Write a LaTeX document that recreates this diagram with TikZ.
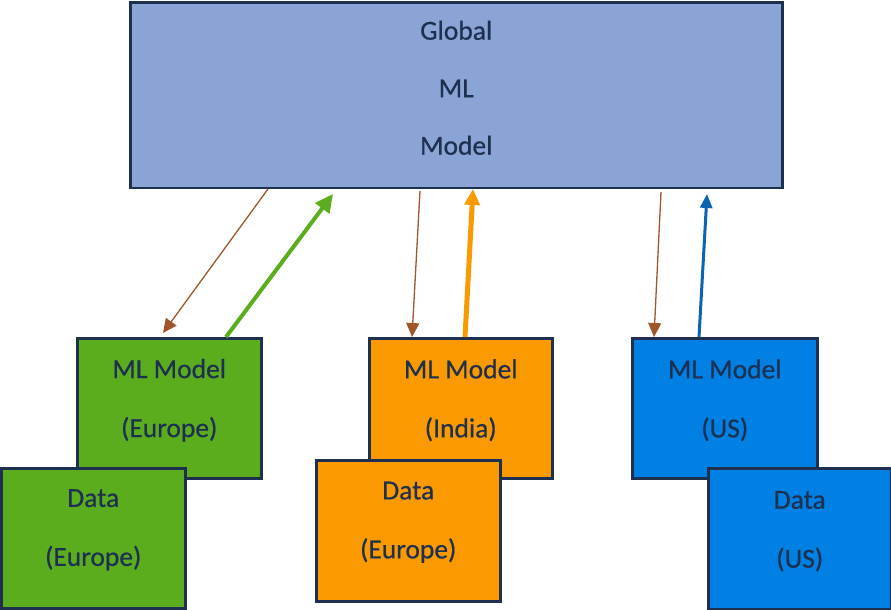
\documentclass[tikz,border=0pt]{standalone}
\usepackage{fontspec}
\setmainfont{Carlito}[FakeBold=0.5]
\usetikzlibrary{arrows.meta}
\definecolor{navy}{HTML}{1E3050}
\definecolor{globfill}{HTML}{8AA5D5}
\definecolor{eugreen}{HTML}{5BAD1E}
\definecolor{inorange}{HTML}{FA9A00}
\definecolor{usblue}{HTML}{0080E2}
\definecolor{brownarr}{HTML}{A0562A}
\tikzset{
  boxbase/.style={draw=navy, line width=2.5pt, anchor=north west, inner sep=0pt},
  regbox/.style={boxbase, fill=#1, minimum width=184pt, minimum height=140pt},
  txt/.style={text=navy, align=center, font=\fontsize{27.5}{59}\selectfont},
  downarr/.style={draw=brownarr, line width=1.3pt, -{Triangle[length=14pt,width=13pt]}},
  uparr/.style={draw=#1, -{Triangle[length=16pt,width=15pt]}}
}
\begin{document}
\begin{tikzpicture}[x=1pt,y=-1pt]
\useasboundingbox (0,0) rectangle (891,610);
% global
\node[boxbase, fill=globfill, minimum width=652pt, minimum height=185pt] (glob) at (129,1.5) {};
\node[txt, font=\fontsize{27.5}{57.5}\selectfont] (globtxt) at ([yshift=7.5pt]glob.center) {Global\\ML\\Model};
% Europe
\node[regbox=eugreen] (eu) at (76,337) {};
\node[txt] (eutxt) at ([yshift=8pt]eu.center) {ML Model\\(Europe)};
\node[regbox=eugreen] (eud) at (0,467) {};
\node[txt] (eudtxt) at ([yshift=8.5pt]eud.center) {Data\\(Europe)};
% India
\node[regbox=inorange, minimum width=183pt] (in) at (368,337) {};
\node[txt] (intxt) at ([yshift=8pt]in.center) {ML Model\\(India)};
\node[regbox=inorange, minimum height=141pt] (ind) at (315,459) {};
\node[txt] (indtxt) at ([yshift=8.5pt]ind.center) {Data\\(Europe)};
% US
\node[regbox=usblue, minimum width=185pt] (us) at (631,337) {};
\node[txt] (ustxt) at ([yshift=8pt]us.center) {ML Model\\(US)};
\node[regbox=usblue, minimum width=183pt, minimum height=141pt] (usd) at (707,467) {};
\node[txt] (usdtxt) at ([yshift=7.5pt]usd.center) {Data\\(US)};
% arrows
\draw[downarr] ([xshift=139pt]glob.south west) -- ([xshift=87pt,yshift=4pt]eu.north west);
\draw[uparr=eugreen, line width=4pt, -{Triangle[length=18pt,width=17pt]}] ([xshift=150pt]eu.north west) -- ([xshift=204pt,yshift=-5pt]glob.south west);
\draw[downarr] ([xshift=291pt,yshift=-2pt]glob.south west) -- ([xshift=44pt]in.north west);
\draw[uparr=inorange, line width=5pt] ([xshift=97pt]in.north west) -- ([xshift=344pt]glob.south west);
\draw[downarr] ([xshift=532pt,yshift=-3pt]glob.south west) -- ([xshift=23pt]us.north west);
\draw[uparr=usblue!65!navy, line width=3pt, -{Triangle[length=14pt,width=12pt]}] ([xshift=68pt]us.north west) -- ([xshift=578pt,yshift=-5pt]glob.south west);
\end{tikzpicture}
\end{document}
